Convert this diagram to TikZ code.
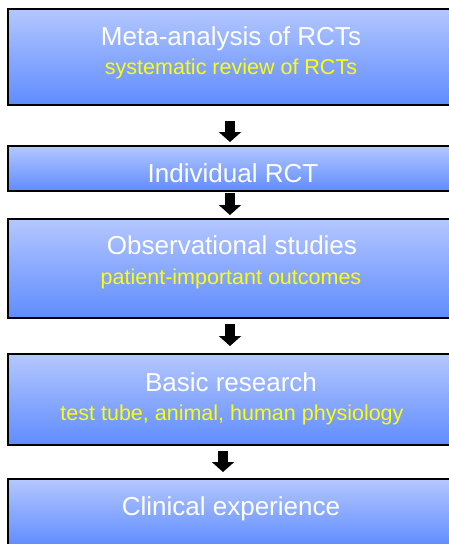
\documentclass[tikz,border=0pt]{standalone}
\usepackage{fontspec}
\setmainfont{Liberation Sans}
\usetikzlibrary{arrows.meta}

\definecolor{boxtop}{RGB}{180,199,255}
\definecolor{boxbot}{RGB}{95,140,255}
\definecolor{subyellow}{RGB}{255,255,0}

\begin{document}
\begin{tikzpicture}[x=1pt, y=-1pt]
		\tikzset{lvl/.style={rectangle, draw=black, line width=2pt, top color=boxtop, bottom color=boxbot, minimum width=446pt, inner sep=0pt}};
		\tikzset{ttl/.style={anchor=base, inner sep=0pt, text=white, font=\fontsize{26}{30}\selectfont}};
		\tikzset{sub/.style={anchor=base, inner sep=0pt, text=subyellow, font=\fontsize{21.5}{26}\selectfont}};
		\tikzset{down/.style={line width=10pt, -{Triangle[length=10pt, width=22pt]}}};

		\useasboundingbox (0, 0) rectangle (449, 544);
		\clip (0, 0) rectangle (449, 544);

		\node[lvl, minimum height=96pt] (meta) at (231, 56.5) {};
		\node[lvl, minimum height=45pt] (rct) at (231, 168.5) {};
		\node[lvl, minimum height=99pt] (obs) at (231, 268.5) {};
		\node[lvl, minimum height=91pt] (basic) at (231, 399.5) {};
		\node[lvl, minimum height=67pt] (clin) at (231, 512.5) {};

		\node[ttl] (metaT) at (231, 45) {Meta-analysis of RCTs};
		\node[sub] (metaS) at (231, 74) {systematic review of RCTs};
		\node[ttl] (rctT) at (233, 182) {Individual RCT};
		\node[ttl] (obsT) at (232, 254) {Observational studies};
		\node[sub] (obsS) at (231, 284) {patient-important outcomes};
		\node[ttl] (basicT) at (231, 391) {Basic research};
		\node[sub] (basicS) at (232, 420) {test tube, animal, human physiology};
		\node[ttl] (clinT) at (231, 515) {Clinical experience};

		\draw[down, shorten <=15pt, shorten >=3pt] ([xshift=-1pt]meta.south) to ([xshift=-1pt]rct.north);
		\draw[down, shorten <=1pt, shorten >=3pt] ([xshift=-1pt]rct.south) to ([xshift=-1pt]obs.north);
		\draw[down, shorten <=5pt, shorten >=7pt] ([xshift=-1pt]obs.south) to ([xshift=-1pt]basic.north);
		\draw[down, shorten <=5pt, shorten >=6pt] ([xshift=-8pt]basic.south) to ([xshift=-8pt]clin.north);
	\end{tikzpicture}
\end{document}
